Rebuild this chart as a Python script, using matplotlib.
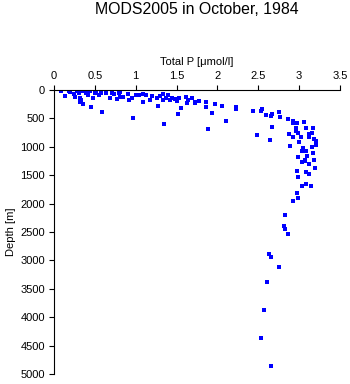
import matplotlib
matplotlib.use("Agg")
import matplotlib.pyplot as plt

plt.rcParams['font.family'] = ['Liberation Sans', 'DejaVu Sans']

# Total P [umol/l] and depth [m]
total_p = [
    0.09, 0.13, 0.18, 0.20, 0.24, 0.26, 0.28, 0.31, 0.32, 0.33, 0.32, 0.36,
    0.35, 0.39, 0.41, 0.44, 0.45, 0.48, 0.50, 0.52, 0.55, 0.57, 0.59, 0.64,
    0.68, 0.71, 0.73, 0.77, 0.79, 0.81, 0.81, 0.85, 0.91, 0.92, 0.95, 0.97,
    1.00, 1.04, 1.09, 1.09, 1.13, 1.17, 1.20, 1.26, 1.27, 1.30, 1.33, 1.34,
    1.35, 1.37, 1.39, 1.42, 1.44, 1.48, 1.50, 1.52, 1.53, 1.55, 1.56, 1.62,
    1.63, 1.64, 1.69, 1.72, 1.73, 1.77, 1.86, 1.86, 1.89, 1.93, 1.97, 2.06,
    2.11, 2.23, 2.23,
    2.44, 2.54, 2.53, 2.59, 2.65, 2.67, 2.75, 2.76, 2.86, 2.92, 2.92, 2.97,
    3.06, 2.67, 2.96, 3.08, 3.17, 2.49, 2.64, 2.88, 2.96, 2.98, 2.92, 3.02,
    3.12, 3.12, 3.16, 3.18, 3.21, 3.00, 3.21, 3.16, 2.89, 3.05, 3.03, 3.09,
    3.17, 3.10, 2.98, 3.18, 3.07, 3.03, 3.12,
    3.07, 3.20, 2.97, 3.09, 3.12, 2.99, 3.03, 3.08, 3.14, 2.97, 2.99, 2.92,
    2.83, 2.82, 2.83, 2.86,
    2.63, 2.66, 2.75, 2.61, 2.57, 2.53, 2.65,
]
depth = [
    18, 106, 12, 41, 70, 123, 12, 47, 135, 176, 205, 252,
    12, 58, 88, 12, 299, 146, 58, 12, 88, 47, 393, 58,
    135, 58, 70, 164, 58, 29, 117, 117, 76, 176, 146, 498,
    88, 88, 205, 76, 88, 176, 106, 135, 282, 106, 70, 176,
    593, 135, 88, 176, 146, 164, 193, 428, 146, 323, 323, 117,
    235, 176, 146, 205, 235, 193, 217, 293, 692, 411, 246, 287,
    540, 293, 334,
    370, 340, 375, 434, 452, 422, 381, 481, 516, 546, 575, 587,
    569, 657, 663, 675, 675, 792, 886, 780, 716, 751, 827, 833,
    780, 833, 763, 862, 892, 909, 974, 1003, 991, 1027, 1068, 1068,
    1115, 1156, 1185, 1226, 1244, 1273, 1302,
    1232, 1378, 1431, 1443, 1473, 1525, 1690, 1660, 1690, 1807, 1906, 1959,
    2200, 2399, 2441, 2540,
    2886, 2945, 3115, 3379, 3872, 4370, 4863,
]

xticks = [0, 0.5, 1, 1.5, 2, 2.5, 3, 3.5]
xticklabels = ['0', '0.5', '1', '1.5', '2', '2.5', '3', '3.5']
yticks = [0, 500, 1000, 1500, 2000, 2500, 3000, 3500, 4000, 4500, 5000]

fig = plt.figure(figsize=(3.5, 3.84), dpi=100)
ax = fig.add_axes([54/350, 1-374/384, 286/350, 284/384])

ax.plot(total_p, depth, 's', color='#0000ff', markersize=2.4,
        markeredgewidth=0)

ax.set_xlim(0, 3.5)
ax.set_ylim(5000, 0)
ax.xaxis.tick_top()
ax.xaxis.set_label_position('top')
ax.set_xticks(xticks)
ax.set_xticklabels(xticklabels)
ax.set_yticks(yticks)
ax.spines['bottom'].set_visible(False)
ax.spines['right'].set_visible(False)
for s in ('top', 'left'):
    ax.spines[s].set_linewidth(0.8)
ax.tick_params(direction='out', length=3.5, width=0.8, labelsize=8, pad=3)
ax.set_xlabel('Total P [μmol/l]', fontsize=8, labelpad=4)
ax.set_ylabel('Depth [m]', fontsize=8, labelpad=3)

fig.text(197/350, 1-9/384, 'MODS2005 in October, 1984', ha='center',
         va='center', fontsize=11.4)

fig.savefig('out.png', dpi=100)
